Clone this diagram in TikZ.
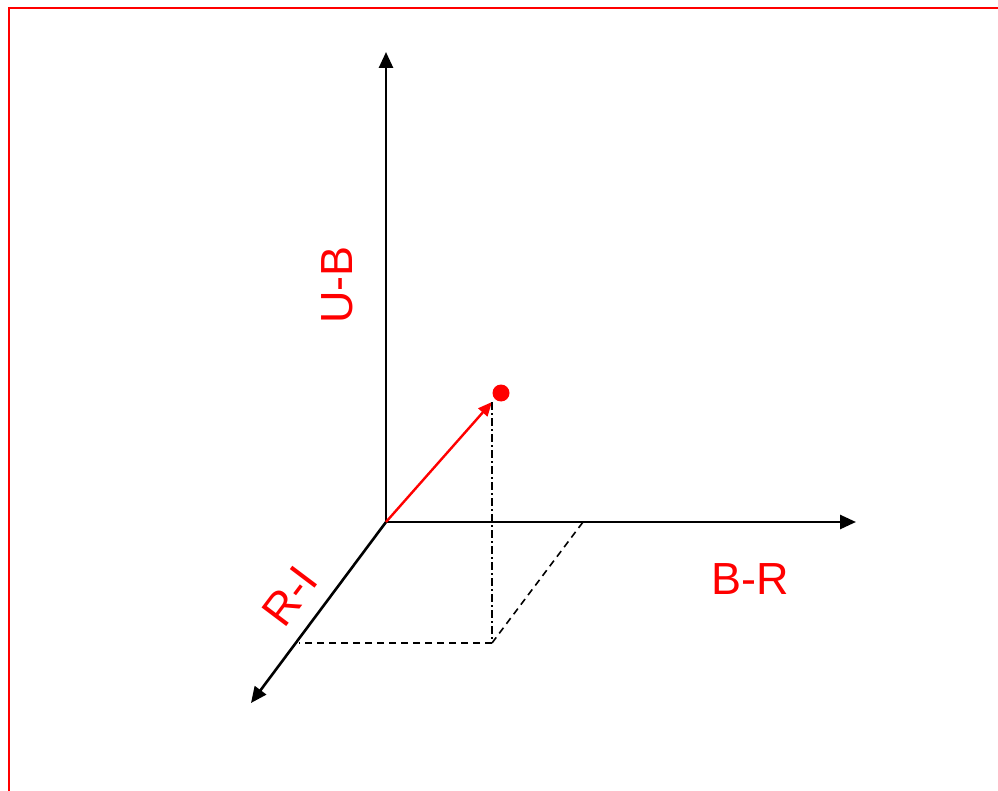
\documentclass[tikz,border=0pt]{standalone}
\usepackage{fontspec}
\setmainfont{Liberation Sans}
\usetikzlibrary{arrows.meta}
\begin{document}
\begin{tikzpicture}[x=1pt,y=-1pt,
  axis/.style={line width=2.6pt,-{Triangle[length=16pt,width=14pt]}},
  vec/.style={red,line width=2.4pt,-{Triangle[length=14pt,width=12pt]}},
  proj/.style={line width=1.6pt,dash pattern=on 7pt off 5pt},
  projdd/.style={line width=1.6pt,dash pattern=on 8pt off 3pt on 2pt off 3pt},
  lbl/.style={red,font=\fontsize{45}{45}\selectfont,inner sep=0pt}]
\useasboundingbox (0,0) rectangle (998,791);
\draw[red,line width=2.5pt] (9,792) -- (9,8) -- (999,8);
\coordinate (O) at (386,522);
\coordinate (Ytip) at (386,52);
\coordinate (Xtip) at (856,522);
\coordinate (Ztip) at (251,703);
\coordinate (V) at (492,402);
\coordinate (F) at (492,643);
\coordinate (Zp) at (299,643);
\coordinate (Xp) at (583,522);
\node[circle,fill=red,inner sep=0pt,minimum size=17pt] (P) at (501,393) {};
\draw[axis] (O) -- (Ytip);
\draw[axis] (O) -- (Xtip);
\draw[axis] (O) -- (Ztip);
\draw[vec] (O) -- (V);
\draw[projdd] (V) -- (F);
\draw[proj] (F) -- (Zp);
\draw[proj] (F) -- (Xp);
\node[lbl,rotate=90] (UB) at (337,285) {U-B};
\node[lbl] (BR) at (750,579) {B-R};
\node[lbl,rotate=53] (RI) at (290,596) {R-I};
\end{tikzpicture}
\end{document}
